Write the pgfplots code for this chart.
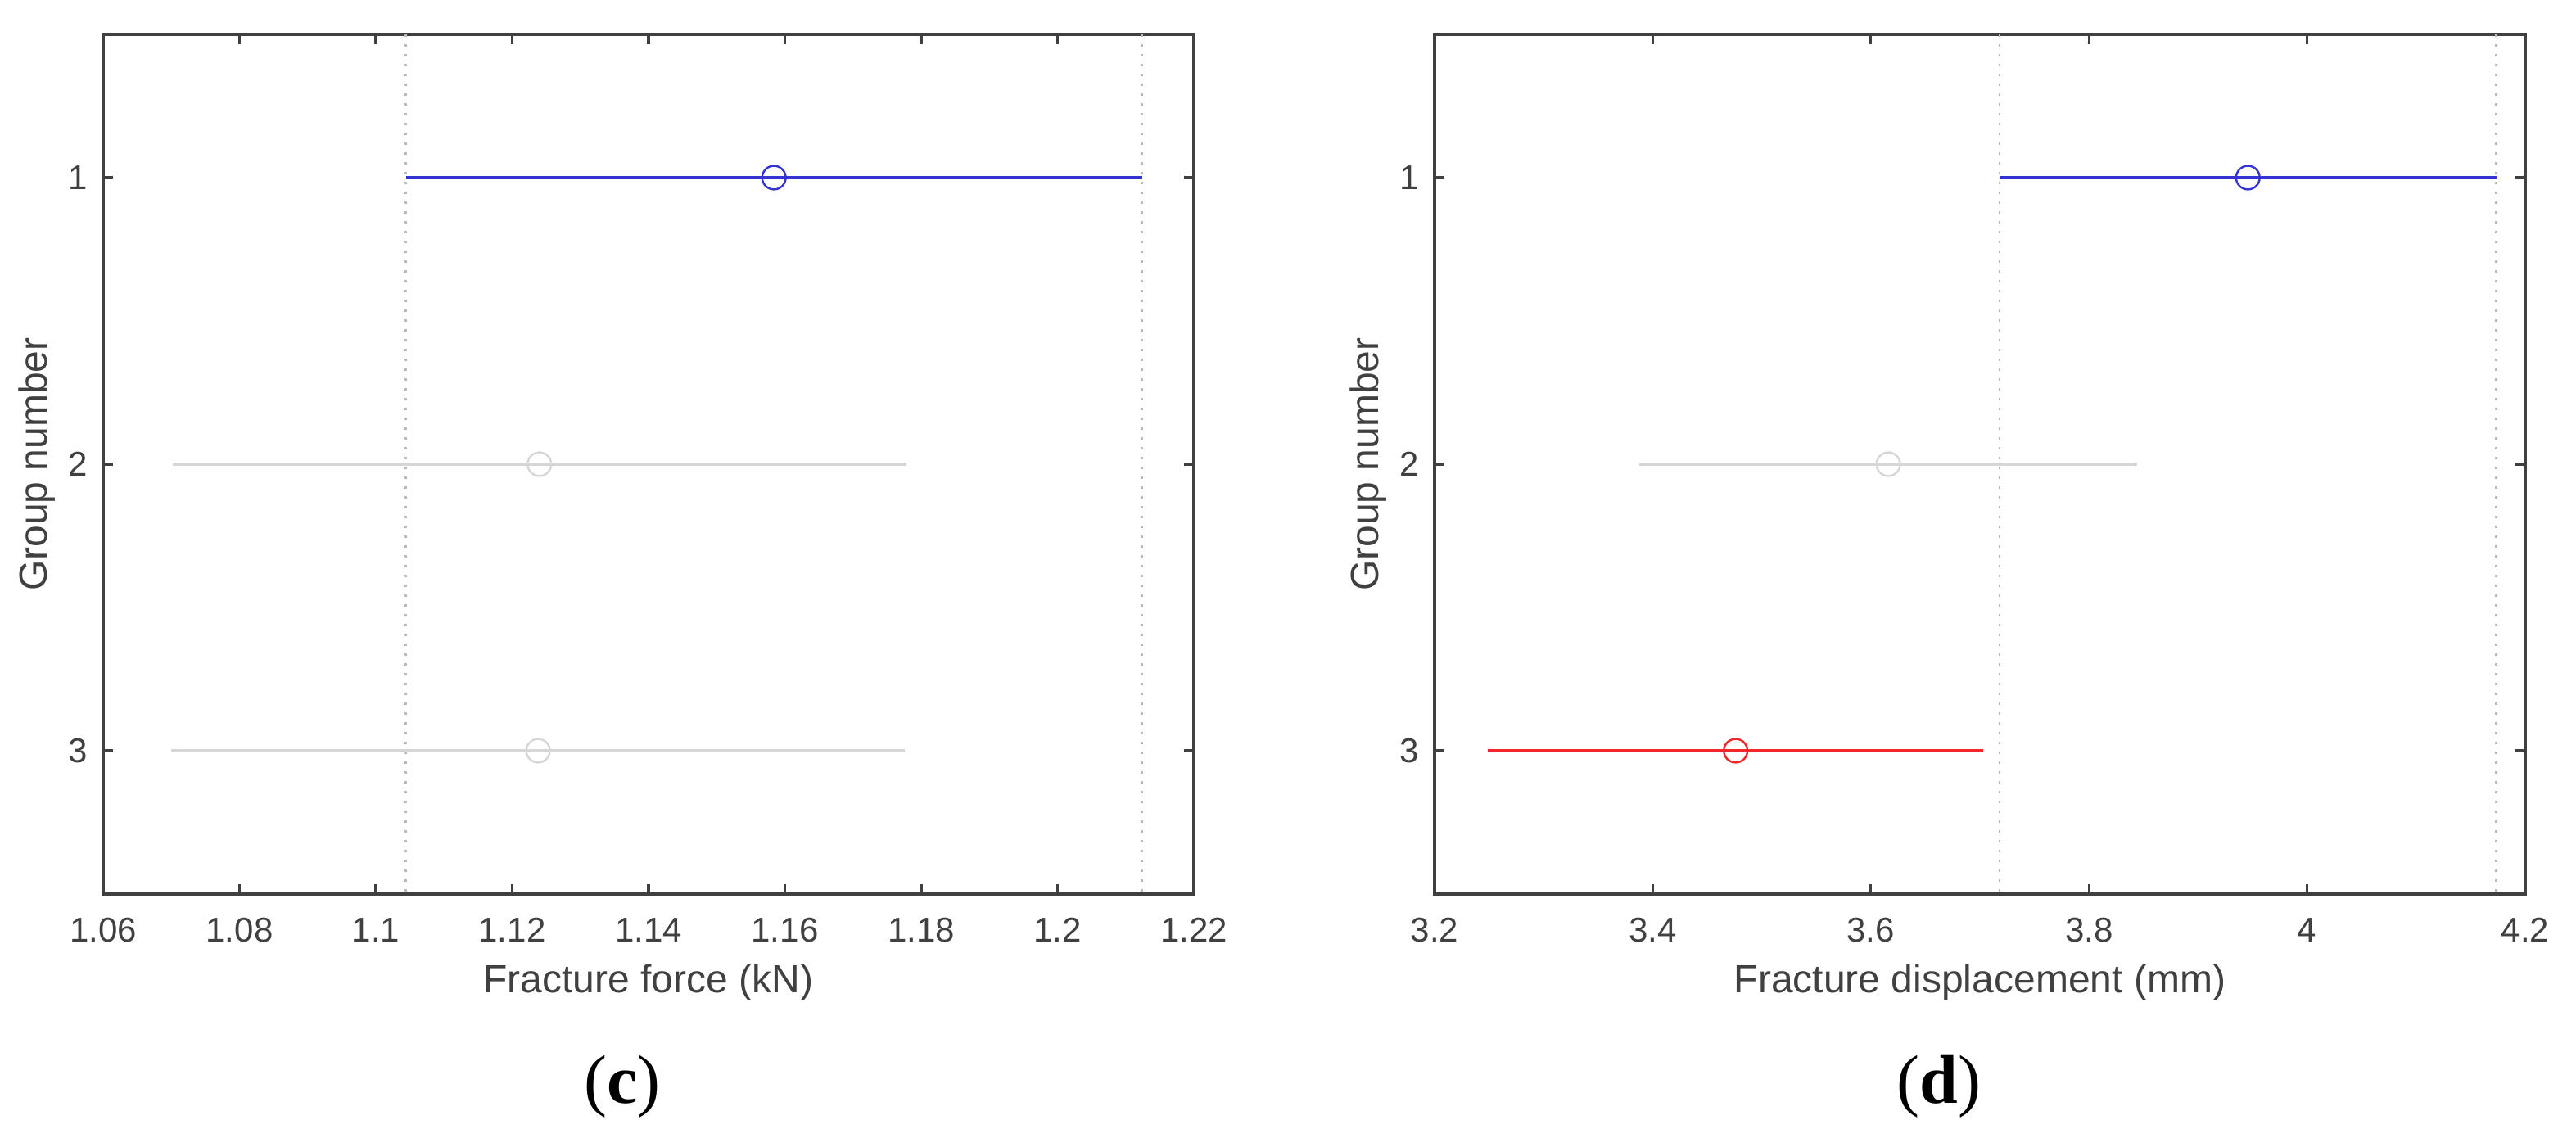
\documentclass[border=0pt]{standalone}
\usepackage{fontspec}
\setmainfont{Liberation Sans}
\newfontfamily\capfont{Liberation Serif}
\usepackage{pgfplots}
\pgfplotsset{compat=1.18}

\definecolor{axisgray}{RGB}{64,64,64}
\definecolor{txtgray}{RGB}{64,64,64}
\definecolor{ciblue}{RGB}{52,52,212}
\definecolor{cired}{RGB}{240,40,40}
\definecolor{cigray}{RGB}{214,214,214}
\definecolor{dotgray}{RGB}{185,185,185}

\pgfplotsset{
  panel/.style={
    scale only axis, width=333pt, height=262.5pt,
    anchor=south west,
    y dir=reverse, ymin=0.5, ymax=3.5, ytick={1,2,3},
    axis line style={draw=axisgray, line width=1pt},
    tick style={draw=axisgray, line width=0.8pt},
    major tick length=3pt,
    ticklabel style={font=\fontsize{10.5}{12}\selectfont, text=txtgray},
    xticklabel style={anchor=center, yshift=-11pt},
    yticklabel style={xshift=-1.2pt},
    label style={font=\fontsize{12}{14}\selectfont, text=txtgray},
    xlabel style={at={(axis description cs:0.5,-0.103)}, anchor=center},
    ylabel style={at={(axis description cs:-0.061,0.5)}, anchor=center},
    ylabel={Group number},
    /pgf/number format/assume math mode=true,
  },
  ci/.style={line width=1pt, mark=none},
  mid/.style={only marks, mark=o, mark size=3.6pt, mark options={line width=0.6pt}},
  guide/.style={dotgray, line width=0.7pt, dash pattern=on 0.8pt off 2.2pt, mark=none},
}

\begin{document}
\begin{tikzpicture}
\path[use as bounding box] (0,0) rectangle (786.5pt,347.5pt);

% (c) fracture force
\begin{axis}[panel, at={(31.5pt,74.5pt)},
    xmin=1.06, xmax=1.22,
    xtick={1.06,1.08,1.1,1.12,1.14,1.16,1.18,1.2,1.22},
    xticklabels={1.06,1.08,1.1,1.12,1.14,1.16,1.18,1.2,1.22},
    xlabel={Fracture force (kN)}]
  \addplot[guide] coordinates {(1.1044,0.5) (1.1044,3.5)};
  \addplot[guide] coordinates {(1.2124,0.5) (1.2124,3.5)};
  \addplot[ci, cigray, line width=0.8pt] coordinates {(1.0702,2) (1.1778,2)};
  \addplot[mid, cigray] coordinates {(1.1240,2)};
  \addplot[ci, cigray, line width=0.8pt] coordinates {(1.0700,3) (1.1776,3)};
  \addplot[mid, cigray] coordinates {(1.1238,3)};
  \addplot[ci, ciblue] coordinates {(1.1044,1) (1.2124,1)};
  \addplot[mid, ciblue] coordinates {(1.1584,1)};
\end{axis}

% (d) fracture displacement
\begin{axis}[panel, at={(438pt,74.5pt)},
    xmin=3.2, xmax=4.2,
    xtick={3.2,3.4,3.6,3.8,4,4.2},
    xticklabels={3.2,3.4,3.6,3.8,4,4.2},
    xlabel={Fracture displacement (mm)}]
  \addplot[guide] coordinates {(3.718,0.5) (3.718,3.5)};
  \addplot[guide] coordinates {(4.1735,0.5) (4.1735,3.5)};
  \addplot[ci, cigray, line width=0.8pt] coordinates {(3.388,2) (3.844,2)};
  \addplot[mid, cigray] coordinates {(3.616,2)};
  \addplot[ci, cired] coordinates {(3.249,3) (3.703,3)};
  \addplot[mid, cired] coordinates {(3.476,3)};
  \addplot[ci, ciblue] coordinates {(3.718,1) (4.1735,1)};
  \addplot[mid, ciblue] coordinates {(3.9457,1)};
\end{axis}

\node[font=\capfont\fontsize{21}{24}\selectfont] at (190pt,15.75pt) {(\textbf{c})};
\node[font=\capfont\fontsize{21}{24}\selectfont] at (592pt,15.75pt) {(\textbf{d})};
\end{tikzpicture}
\end{document}
